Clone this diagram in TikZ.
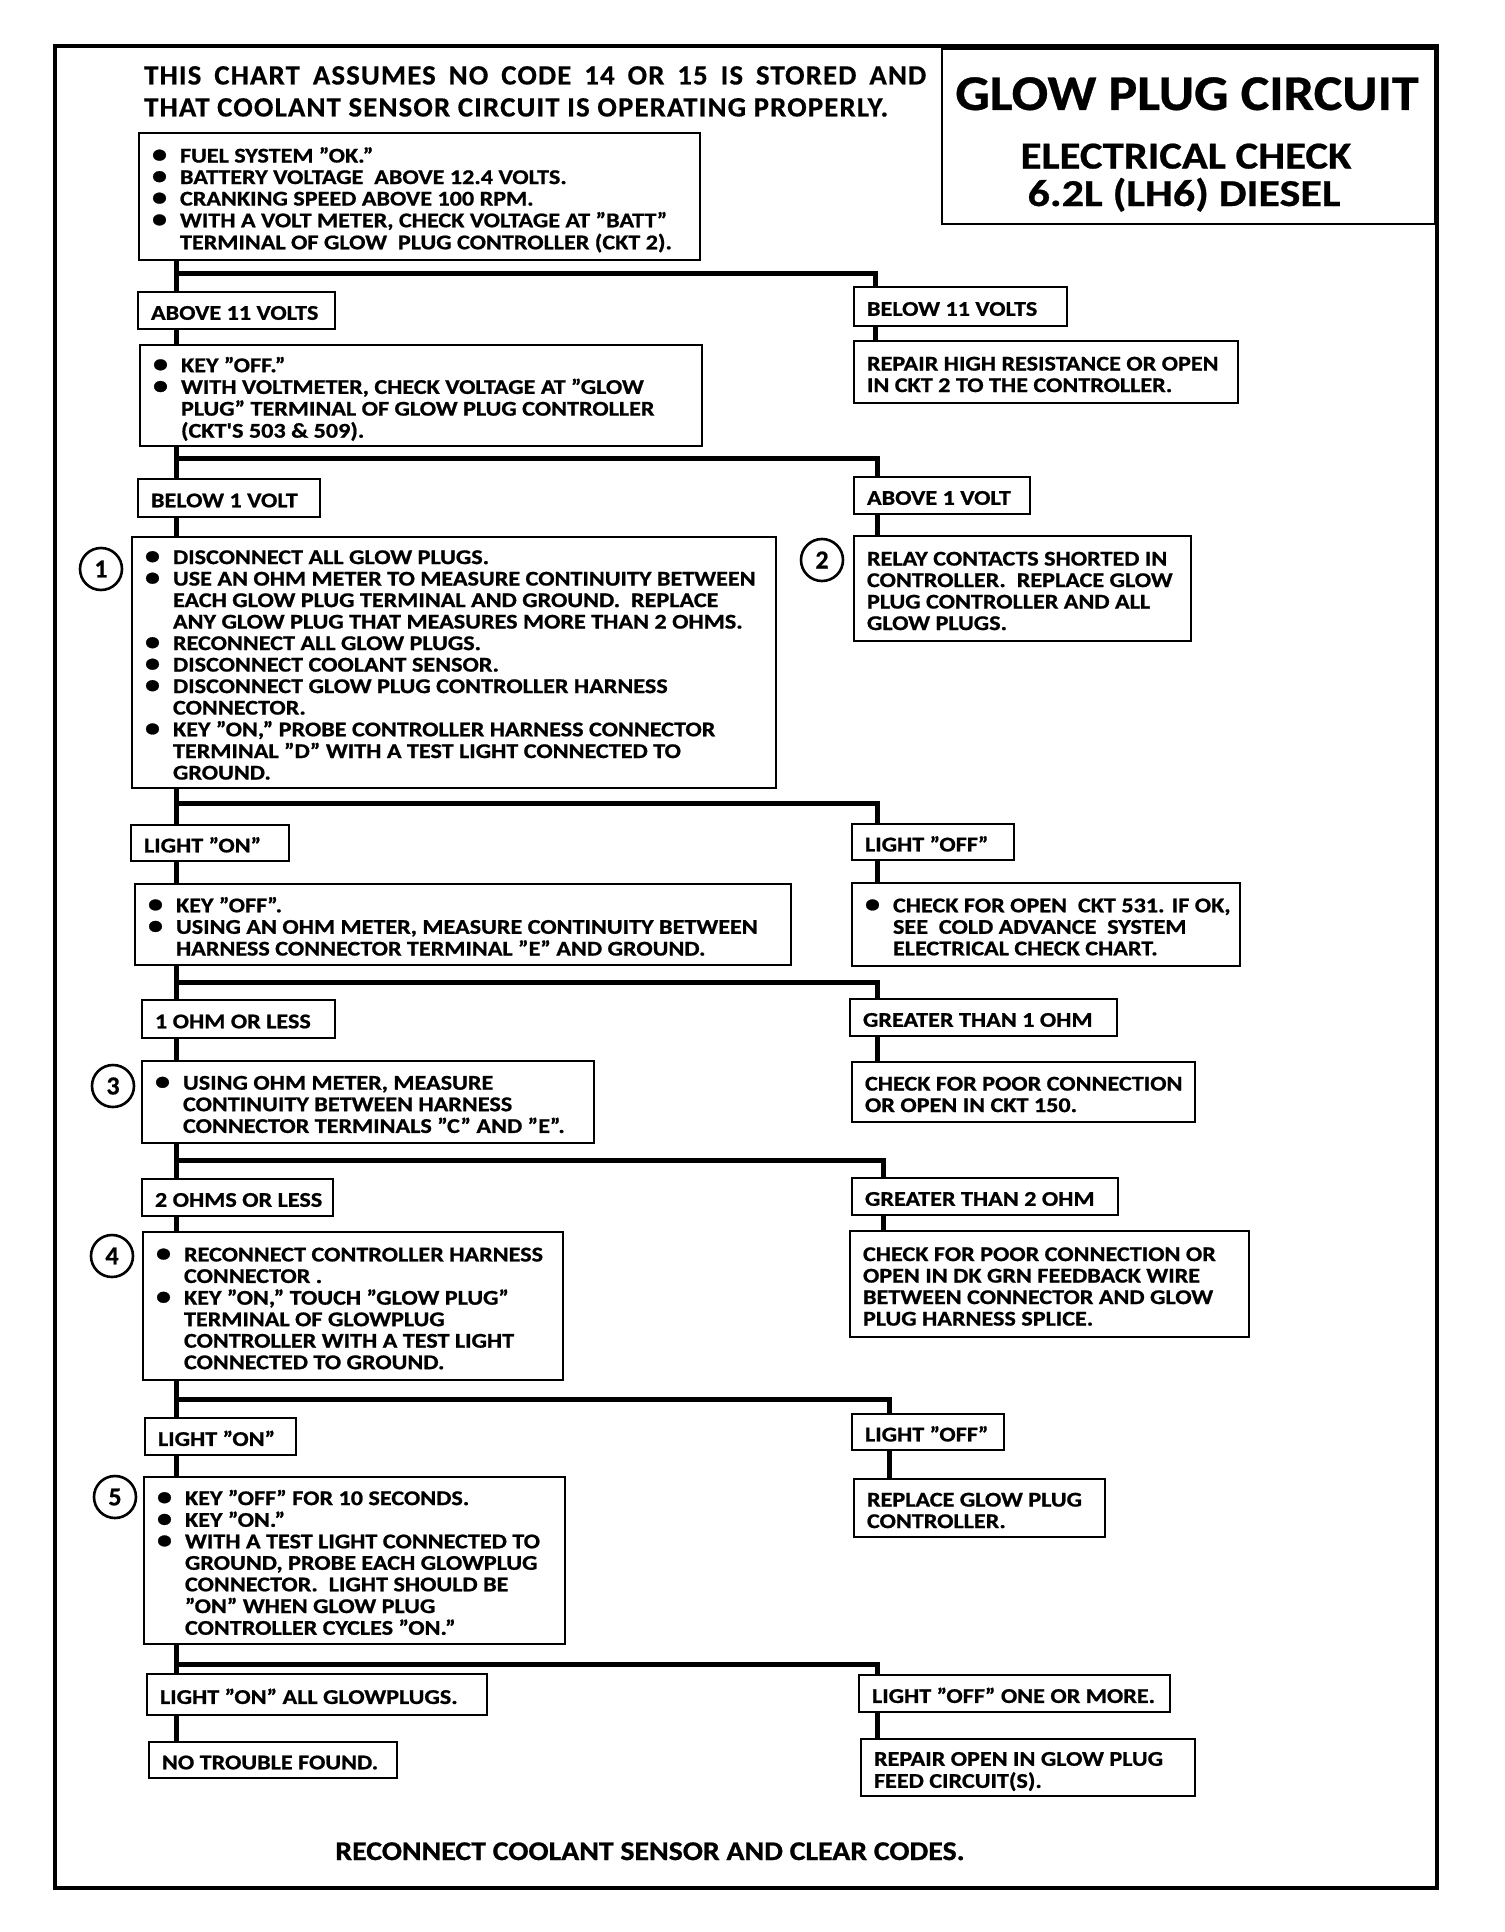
\documentclass[tikz,border=0pt]{standalone}
\usepackage{fontspec}
\setmainfont{Carlito}
\newfontfamily\bodyff{Carlito}[FakeStretch=1.15, FakeBold=0.9]
\newfontfamily\hdrfont{Carlito}[LetterSpace=4, FakeStretch=1.03, FakeBold=0.5]
\newfontfamily\ttlfont{Carlito}[FakeBold=0.6]
\newcommand\bodyfont{\bodyff\bfseries\fontsize{21}{21.5}\selectfont}
\newcommand\bul{\makebox[28pt][l]{\scalebox{1.25}{\textbullet}}}
\newcommand\ind{\hspace*{28pt}}
\newcommand\bx[6]{%
  \pgfmathsetmacro\bxw{#4-#2}\pgfmathsetmacro\bxh{#5-#3}\pgfmathsetmacro\bxt{#4-#2-26}%
  \pgfmathsetmacro\bxcx{(#2+#4)/2}\pgfmathsetmacro\bxcy{(#3+#5)/2}%
  \node[box, minimum width=\bxw pt, minimum height=\bxh pt] (#1) at (\bxcx,\bxcy)
    {\raisebox{0pt}[\dimexpr\height+5pt\relax][\dimexpr\depth-5pt\relax]{\makebox[\bxt pt][l]{\begin{tabular}{@{}l@{}}#6\end{tabular}}}};}
\begin{document}
\begin{tikzpicture}[x=1pt,y=-1pt,
  box/.style={draw, line width=2.6pt, inner xsep=13pt, inner ysep=0pt, font=\bodyfont},
  conn/.style={line width=5pt},
  num/.style={circle, draw, line width=2.6pt, minimum size=42pt, inner sep=0pt, font=\ttlfont\bfseries\fontsize{26}{26}\selectfont},
  txt/.style={inner sep=0pt, anchor=base}]
\useasboundingbox (0,0) rectangle (1504,1932);
% frame and title
\node[draw, line width=4pt, minimum width=1382pt, minimum height=1842pt, inner sep=0pt] (frame) at (746,967) {};
\node[draw, line width=2.6pt, minimum width=493pt, minimum height=175pt, inner sep=0pt] (title) at (1188.5,136.5) {};
\node[txt, font=\ttlfont\bfseries\fontsize{50}{50}\selectfont] (t1) at (1187,110) {\scalebox{1.08}[1]{GLOW PLUG CIRCUIT}};
\node[txt, font=\ttlfont\bfseries\fontsize{38}{38}\selectfont] (t2) at (1186,168.5) {\scalebox{1.125}[1]{ELECTRICAL CHECK}};
\node[txt, font=\ttlfont\bfseries\fontsize{38}{38}\selectfont] (t3) at (1184,206) {\scalebox{1.16}[1]{6.2L (LH6) DIESEL}};
\node[txt, anchor=base west, font=\hdrfont\bfseries\fontsize{28}{28}\selectfont] (h1) at (144,84.5) {\makebox[782pt][s]{THIS CHART ASSUMES NO CODE 14 OR 15 IS STORED AND}};
\node[txt, anchor=base west, font=\hdrfont\bfseries\fontsize{28}{28}\selectfont] (h2) at (144,116.5) {THAT COOLANT SENSOR CIRCUIT IS OPERATING PROPERLY.};
% boxes
\bx{A}{139}{133}{700}{260}{\bul FUEL SYSTEM ”OK.”\\ \bul BATTERY VOLTAGE~ ABOVE 12.4 VOLTS.\\ \bul CRANKING SPEED ABOVE 100 RPM.\\ \bul WITH A VOLT METER, CHECK VOLTAGE AT ”BATT”\\ \ind TERMINAL OF GLOW~ PLUG CONTROLLER (CKT 2).}
\bx{a11}{138}{292}{335}{329}{ABOVE 11 VOLTS}
\bx{b11}{854}{287}{1067}{326}{BELOW 11 VOLTS}
\bx{B}{140}{345}{702}{446}{\bul KEY ”OFF.”\\ \bul WITH VOLTMETER, CHECK VOLTAGE AT ”GLOW\\ \ind PLUG” TERMINAL OF GLOW PLUG CONTROLLER\\ \ind (CKT'S 503 \& 509).}
\bx{R1}{854}{341}{1238}{403}{REPAIR HIGH RESISTANCE OR OPEN\\ IN CKT 2 TO THE CONTROLLER.}
\bx{bl1}{138}{479}{320}{517}{BELOW 1 VOLT}
\bx{ab1}{854}{477}{1030}{514}{ABOVE 1 VOLT}
\bx{S1}{132}{537}{776}{788}{\bul DISCONNECT ALL GLOW PLUGS.\\ \bul USE AN OHM METER TO MEASURE CONTINUITY BETWEEN\\ \ind EACH GLOW PLUG TERMINAL AND GROUND.~ REPLACE\\ \ind ANY GLOW PLUG THAT MEASURES MORE THAN 2 OHMS.\\ \bul RECONNECT ALL GLOW PLUGS.\\ \bul DISCONNECT COOLANT SENSOR.\\ \bul DISCONNECT GLOW PLUG CONTROLLER HARNESS\\ \ind CONNECTOR.\\ \bul KEY ”ON,” PROBE CONTROLLER HARNESS CONNECTOR\\ \ind TERMINAL ”D” WITH A TEST LIGHT CONNECTED TO\\ \ind GROUND.}
\bx{S2}{854}{536}{1191}{641}{RELAY CONTACTS SHORTED IN\\ CONTROLLER.~ REPLACE GLOW\\ PLUG CONTROLLER AND ALL\\ GLOW PLUGS.}
\node[num] (c1) at (101,569) {1};
\node[num] (c2) at (822,560) {2};
\bx{lon1}{131}{825}{289}{861}{LIGHT ”ON”}
\bx{loff1}{852}{824}{1014}{860}{LIGHT ”OFF”}
\bx{C}{135}{884}{791}{965}{\bul KEY ”OFF”.\\ \bul USING AN OHM METER, MEASURE CONTINUITY BETWEEN\\ \ind HARNESS CONNECTOR TERMINAL ”E” AND GROUND.}
\bx{R3}{852}{883}{1240}{966}{\bul CHECK FOR OPEN~ CKT 531. IF OK,\\ \ind SEE~ COLD ADVANCE~ SYSTEM\\ \ind ELECTRICAL CHECK CHART.}
\bx{o1l}{142}{1000}{335}{1038}{1 OHM OR LESS}
\bx{o1g}{850}{999}{1117}{1036}{GREATER THAN 1 OHM}
\bx{S3}{142}{1061}{594}{1143}{\bul USING OHM METER, MEASURE\\ \ind CONTINUITY BETWEEN HARNESS\\ \ind CONNECTOR TERMINALS ”C” AND ”E”.}
\bx{R4}{852}{1062}{1195}{1122}{CHECK FOR POOR CONNECTION\\ OR OPEN IN CKT 150.}
\node[num] (c3) at (113,1086) {3};
\bx{o2l}{142}{1179}{333}{1216}{2 OHMS OR LESS}
\bx{o2g}{852}{1178}{1118}{1215}{GREATER THAN 2 OHM}
\bx{S4}{143}{1232}{563}{1380}{\bul RECONNECT CONTROLLER HARNESS\\ \ind CONNECTOR .\\ \bul KEY ”ON,” TOUCH ”GLOW PLUG”\\ \ind TERMINAL OF GLOWPLUG\\ \ind CONTROLLER WITH A TEST LIGHT\\ \ind CONNECTED TO GROUND.}
\bx{R5}{850}{1231}{1249}{1337}{CHECK FOR POOR CONNECTION OR\\ OPEN IN DK GRN FEEDBACK WIRE\\ BETWEEN CONNECTOR AND GLOW\\ PLUG HARNESS SPLICE.}
\node[num] (c4) at (112,1256) {4};
\bx{lon2}{145}{1418}{296}{1455}{LIGHT ”ON”}
\bx{loff2}{852}{1414}{1004}{1450}{LIGHT ”OFF”}
\bx{S5}{144}{1477}{565}{1644}{\bul KEY ”OFF” FOR 10 SECONDS.\\ \bul KEY ”ON.”\\ \bul WITH A TEST LIGHT CONNECTED TO\\ \ind GROUND, PROBE EACH GLOWPLUG\\ \ind CONNECTOR.~ LIGHT SHOULD BE\\ \ind ”ON” WHEN GLOW PLUG\\ \ind CONTROLLER CYCLES ”ON.”}
\bx{R6}{854}{1479}{1105}{1537}{REPLACE GLOW PLUG\\ CONTROLLER.}
\node[num] (c5) at (115,1497) {5};
\bx{lall}{147}{1674}{487}{1715}{LIGHT ”ON” ALL GLOWPLUGS.}
\bx{loffm}{859}{1675}{1170}{1712}{LIGHT ”OFF” ONE OR MORE.}
\bx{ntf}{149}{1742}{397}{1778}{NO TROUBLE FOUND.}
\bx{rep}{861}{1739}{1195}{1796}{REPAIR OPEN IN GLOW PLUG\\ FEED CIRCUIT(S).}
\node[txt, font=\bodyff\bfseries\fontsize{27}{27}\selectfont] (foot) at (650,1860) {\scalebox{0.96}[1]{RECONNECT COOLANT SENSOR AND CLEAR CODES.}};
% connectors
\coordinate (j1) at (176,273); \coordinate (k1) at (875,273);
\draw[conn] (j1 |- A.south) -- (j1 |- a11.north);
\draw[conn] (j1) -- (k1) -- (k1 |- b11.north);
\draw[conn] (j1 |- a11.south) -- (j1 |- B.north);
\draw[conn] (k1 |- b11.south) -- (k1 |- R1.north);
\coordinate (j2) at (176,458); \coordinate (k2) at (877,458);
\draw[conn] (j2 |- B.south) -- (j2 |- bl1.north);
\draw[conn] (j2) -- (k2) -- (k2 |- ab1.north);
\draw[conn] (j2 |- bl1.south) -- (j2 |- S1.north);
\draw[conn] (k2 |- ab1.south) -- (k2 |- S2.north);
\coordinate (j3) at (176,803); \coordinate (k3) at (877,803);
\draw[conn] (j3 |- S1.south) -- (j3 |- lon1.north);
\draw[conn] (j3) -- (k3) -- (k3 |- loff1.north);
\draw[conn] (j3 |- lon1.south) -- (j3 |- C.north);
\draw[conn] (k3 |- loff1.south) -- (k3 |- R3.north);
\coordinate (j4) at (176,982); \coordinate (k4) at (877,982);
\draw[conn] (j4 |- C.south) -- (j4 |- o1l.north);
\draw[conn] (j4) -- (k4) -- (k4 |- o1g.north);
\draw[conn] (j4 |- o1l.south) -- (j4 |- S3.north);
\draw[conn] (k4 |- o1g.south) -- (k4 |- R4.north);
\coordinate (j5) at (176,1160); \coordinate (k5) at (883,1160);
\draw[conn] (j5 |- S3.south) -- (j5 |- o2l.north);
\draw[conn] (j5) -- (k5) -- (k5 |- o2g.north);
\draw[conn] (j5 |- o2l.south) -- (j5 |- S4.north);
\draw[conn] (k5 |- o2g.south) -- (k5 |- R5.north);
\coordinate (j6) at (176,1399); \coordinate (k6) at (889,1399);
\draw[conn] (j6 |- S4.south) -- (j6 |- lon2.north);
\draw[conn] (j6) -- (k6) -- (k6 |- loff2.north);
\draw[conn] (j6 |- lon2.south) -- (j6 |- S5.north);
\draw[conn] (k6 |- loff2.south) -- (k6 |- R6.north);
\coordinate (j7) at (176,1664); \coordinate (k7) at (877,1664);
\draw[conn] (j7 |- S5.south) -- (j7 |- lall.north);
\draw[conn] (j7) -- (k7) -- (k7 |- loffm.north);
\draw[conn] (j7 |- lall.south) -- (j7 |- ntf.north);
\draw[conn] (k7 |- loffm.south) -- (k7 |- rep.north);
\end{tikzpicture}
\end{document}
